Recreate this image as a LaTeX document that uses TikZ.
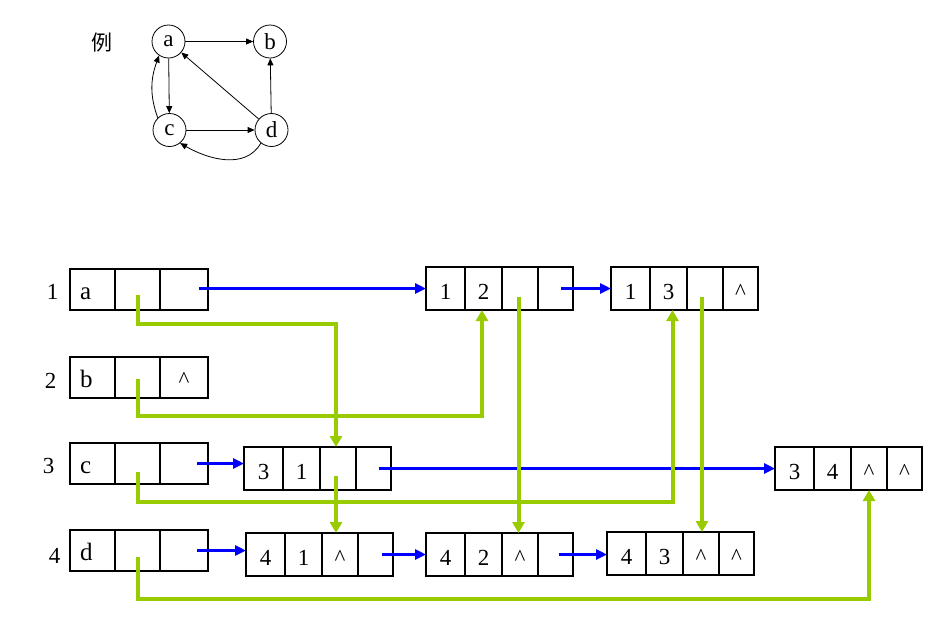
\documentclass[tikz,border=0pt]{standalone}
\usepackage{fontspec}
\setmainfont{Liberation Serif}
\newfontfamily\cjk{Noto Sans CJK SC}
\usetikzlibrary{arrows.meta}
\definecolor{lgreen}{RGB}{153,204,0}
\definecolor{pblue}{RGB}{0,0,255}
\tikzset{
  cellbox/.style={draw, line width=1.2pt, inner sep=0pt, outer sep=0pt, anchor=north west,
    minimum height=43pt, text height=21pt, text depth=0pt,
    font=\fontsize{23}{23}\selectfont},
  vcell/.style={cellbox, minimum height=41pt, text height=20pt},
  lettertxt/.style={inner sep=0pt, font=\fontsize{25}{25}\selectfont},
  rowlabel/.style={inner sep=0pt, anchor=base, font=\fontsize{23}{23}\selectfont},
  gnode/.style={draw, circle, line width=0.8pt, minimum size=33pt, inner sep=0pt,
    font=\fontsize{23}{23}\selectfont},
  gedge/.style={line width=0.8pt, -{Triangle[length=7pt,width=6pt]}},
  bluearr/.style={draw=pblue, line width=3.3pt, -{Triangle[length=11pt,width=10pt]}},
  greenarr/.style={draw=lgreen, line width=4pt, -{Triangle[length=11pt,width=12pt]}}
}
\newcommand\arcbox[7]{%
  \node[cellbox, minimum width=39pt] (#1a) at (#2,#3) {#4};
  \node[cellbox, minimum width=37pt] (#1b) at (#1a.north east) {#5};
  \node[cellbox, minimum width=36pt] (#1c) at (#1b.north east) {#6};
  \node[cellbox, minimum width=35pt] (#1d) at (#1c.north east) {#7};
}
\newcommand\vertbox[5]{%
  \node[vcell, minimum width=45pt] (#1a) at (#2,#3) {};
  \node[vcell, minimum width=45pt] (#1b) at (#1a.north east) {};
  \node[vcell, minimum width=48pt] (#1c) at (#1b.north east) {#5};
  \node[lettertxt, anchor=base west] (#1t) at ([xshift=10pt,yshift=-9.5pt]#1a.west) {#4};
}
\newcommand\crt{\textasciicircum}
\begin{document}
\begin{tikzpicture}[x=1pt,y=-1pt]
\useasboundingbox (0,0) rectangle (937,635);

% example graph
\node[inner sep=0pt, font=\cjk\fontsize{21}{21}\selectfont] (ex) at (102,43) {例};
\node[gnode] (ga) at (168.5,41.5) {a};
\node[gnode] (gb) at (270,41.5) {b};
\node[gnode] (gc) at (169.5,130) {c};
\node[gnode] (gd) at (271.5,130) {d};
\draw[gedge] (ga) -- (gb);
\draw[gedge] (ga) -- (gc);
\draw[gedge] (gc) -- (gd);
\draw[gedge] (gd) -- (gb);
\draw[gedge] (gd) -- (ga);
\draw[gedge] (gc.134) to[out=110,in=250] (ga.236);
\draw[gedge] (gd.231) to[out=240,in=-30] (gc.309);

% row labels
\node[rowlabel] (r1) at (52.5,299) {1};
\node[rowlabel] (r2) at (50.5,388) {2};
\node[rowlabel] (r3) at (48.5,473) {3};
\node[rowlabel] (r4) at (54.5,563) {4};

% vertex boxes
\vertbox{v1}{70}{269}{a}{}
\vertbox{v2}{70}{357}{b}{\crt}
\vertbox{v3}{70}{443}{c}{}
\vertbox{v4}{70}{530}{d}{}

% arc nodes
\arcbox{n12}{426}{267}{1}{2}{}{}
\arcbox{n13}{611}{267}{1}{3}{}{\crt}
\arcbox{n31}{244}{447}{3}{1}{}{}
\arcbox{n34}{775}{447}{3}{4}{\crt}{\crt}
\arcbox{n41}{246}{533}{4}{1}{\crt}{}
\arcbox{n42}{426}{533}{4}{2}{\crt}{}
\arcbox{n43}{607}{532}{4}{3}{\crt}{\crt}

% blue links
\draw[bluearr] ([xshift=-9pt]v1c.east |- n12a.west) -- (n12a.west);
\draw[bluearr] ([xshift=-12pt]n12d.east) -- (n13a.west);
\draw[bluearr] ([xshift=-11pt]v3c.east) -- (v3c.east -| n31a.west);
\draw[bluearr] ([xshift=-12pt]n31d.east) -- (n34a.west);
\draw[bluearr] ([xshift=-11pt]v4c.east) -- (v4c.east -| n41a.west);
\draw[bluearr] ([xshift=-11pt]n41d.east) -- (n42a.west);
\draw[bluearr] ([xshift=-14pt]n42d.east) -- (n42d.east -| n43a.west);

% green links
\draw[greenarr] ([yshift=-5pt]v1b.center) -- ++(0,29) -| ([xshift=-2pt]n31c.north);
\draw[greenarr] ([yshift=-1.5pt]v2b.center) -- ++(0,36.5) -| ([xshift=-1.5pt]n12b.south);
\draw[greenarr] ([yshift=-8.5pt]v3b.center) -- ++(0,30) -| ([xshift=4pt]n13b.south);
\draw[greenarr] ([yshift=-6.5pt]v4b.center) -- ++(0,42) -| (n34c.south);
\draw[greenarr] ([xshift=-2pt,yshift=-7pt]n31c.center) -- ([xshift=-2pt]n31c.center |- n41c.north);
\draw[greenarr] ([xshift=-1.5pt,yshift=-8pt]n12c.center) -- ([xshift=-1.5pt]n12c.center |- n42c.north);
\draw[greenarr] ([xshift=-3pt,yshift=-8pt]n13c.center) -- ([xshift=-3pt]n13c.center |- n43c.north);
\end{tikzpicture}
\end{document}
